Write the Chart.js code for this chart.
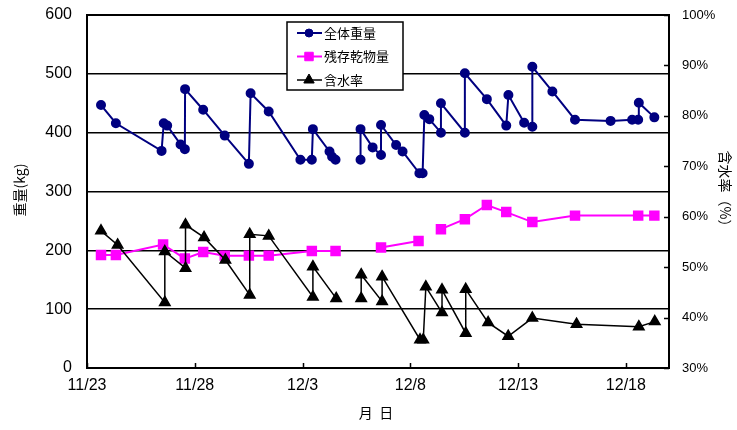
<!DOCTYPE html>
<html>
<head>
<meta charset="utf-8">
<script src="https://cdn.jsdelivr.net/npm/chart.js@4/dist/chart.umd.min.js"></script>
<style>
  html, body { margin: 0; padding: 0; background: #fff; }
  canvas { display: block; }
</style>
</head>
<body>
<canvas id="c" width="737" height="430"></canvas>
<script>
// Day offsets from 11/23 for the x axis ticks and their labels
const tickDays = [0, 5, 10, 15, 20, 25];
const tickLabels = ['11/23', '11/28', '12/3', '12/8', '12/13', '12/18'];

// 全体重量 (kg) — null marks a break in the line
const totalDays = [0.65, 1.34, 3.46, 3.56, 3.72, 4.34, 4.54, 4.55, 5.39, 6.39, 7.51, 7.59, 8.43, 9.90, 10.43, 10.48, 11.25, 11.37, 11.53, 12.1,
  12.69, 12.69, 13.25, 13.64, 13.64, 14.34, 14.64, 15.42, 15.57, 15.65, 15.88, 16.42, 16.42, 17.53, 17.53, 18.55, 19.45, 19.55, 20.28, 20.66, 20.66,
  21.59, 22.64, 24.29, 25.29, 25.57, 25.60, 26.32];
const totalKg = [447, 416, 369, 416, 412, 380, 372, 474, 439, 395, 347, 467, 436, 354, 354, 406, 368, 359, 354, null,
  354, 406, 375, 362, 413, 379, 368, 331, 331, 430, 423, 400, 450, 400, 501, 457, 412, 464, 417, 410, 512,
  470, 422, 420, 422, 422, 451, 426];

// 残存乾物量 (kg)
const dryDays = [0.65, 1.34, 3.53, 4.54, 5.39, 6.39, 7.51, 8.43, 10.43, 11.53, 12.6, 13.64, 15.38, 15.9, 16.42, 17.53, 18.55, 19.45, 20.66, 22.64, 25.57, 26.32];
const dryKg = [192, 192, 210, 186, 197, 191, 191, 191, 199, 199, null, 205, 216, null, 236, 253, 277, 265, 248, 259, 259, 259];

// 含水率 (%)
const moistDays = [0.65, 1.42, 3.61, 3.61, 4.57, 4.57, 5.43, 6.42, 7.55, 7.55, 8.43, 10.48, 10.48, 11.56, 12.1,
  12.72, 12.72, 13.69, 13.69, 15.45, 15.60, 15.72, 16.47, 16.47, 17.57, 17.57, 18.61, 19.54, 20.66, 22.71, 25.60, 26.34];
const moistPct = [57.2, 54.4, 43.0, 53.1, 49.8, 58.4, 55.9, 51.4, 44.5, 56.5, 56.2, 44.1, 50.1, 43.8, null,
  43.8, 48.5, 43.2, 48.1, 35.6, 35.6, 46.1, 41.0, 45.5, 36.9, 45.6, 39.0, 36.3, 39.9, 38.7, 38.2, 39.2];

const seriesNames = ['全体重量', '残存乾物量', '含水率'];

const pts = (xs, ys) => xs.map((x, i) => ({ x: x, y: ys[i] }));

const NUM_FONT = "'Liberation Sans', Arial, sans-serif";
const CJK_FONT = "'Noto Sans CJK JP', 'Noto Sans CJK SC', sans-serif";

// Fixed-width vertical axes without the extra label overhang at the ends
const fixVertical = w => s => { s.width = w; s.paddingTop = 0; s.paddingBottom = 0; };

// Border, inward tick marks, legend box and axis titles
const decor = {
  id: 'decor',
  afterDraw(chart) {
    const ctx = chart.ctx;
    const a = chart.chartArea;
    const xs = chart.scales.x, yr = chart.scales.y1;
    ctx.save();
    ctx.strokeStyle = '#000';
    ctx.lineWidth = 2;
    ctx.strokeRect(a.left, a.top, a.right - a.left, a.bottom - a.top);

    ctx.lineWidth = 1.5;
    ctx.beginPath();
    xs.ticks.forEach(t => {
      const px = Math.round(xs.getPixelForValue(t.value)) + 0.5;
      ctx.moveTo(px, a.bottom);
      ctx.lineTo(px, a.bottom - 5);
    });
    yr.ticks.forEach(t => {
      const py = Math.round(yr.getPixelForValue(t.value)) + 0.5;
      ctx.moveTo(a.right, py);
      ctx.lineTo(a.right - 5, py);
    });
    ctx.stroke();

    // legend
    const lx = 287, ly = 22, lw = 116, lh = 68;
    ctx.fillStyle = '#fff';
    ctx.fillRect(lx, ly, lw, lh);
    ctx.lineWidth = 1.5;
    ctx.strokeStyle = '#000';
    ctx.strokeRect(lx, ly, lw, lh);
    const rows = [33, 56.5, 80];
    chart.data.datasets.forEach((ds, i) => {
      const y = rows[i];
      ctx.strokeStyle = ds.borderColor;
      ctx.lineWidth = ds.borderWidth;
      ctx.beginPath();
      ctx.moveTo(297, y);
      ctx.lineTo(322, y);
      ctx.stroke();
      ctx.fillStyle = ds.pointBackgroundColor;
      ctx.strokeStyle = ds.pointBorderColor;
      ctx.lineWidth = 1;
      Chart.helpers.drawPoint(ctx, { pointStyle: ds.pointStyle, radius: ds.pointRadius, rotation: 0, borderWidth: 1 }, 309, y);
      ctx.fillStyle = '#000';
      ctx.font = '13px ' + CJK_FONT;
      ctx.textAlign = 'left';
      ctx.textBaseline = 'middle';
      ctx.fillText(ds.label, 324, y);
    });

    // axis titles
    ctx.fillStyle = '#000';
    ctx.font = '14px ' + CJK_FONT;
    ctx.textAlign = 'center';
    ctx.textBaseline = 'middle';
    ctx.save();
    ctx.translate(20, 190);
    ctx.rotate(-Math.PI / 2);
    ctx.fillText('重量(kg)', 0, 0);
    ctx.restore();
    ctx.save();
    ctx.translate(725, 192);
    ctx.rotate(Math.PI / 2);
    ctx.fillText('含水率（%）', 0, 0);
    ctx.restore();
    ctx.fillText('月  日', 376, 413);
    ctx.restore();
  }
};

new Chart(document.getElementById('c'), {
  type: 'line',
  data: {
    datasets: [
      {
        label: seriesNames[0],
        data: pts(totalDays, totalKg),
        yAxisID: 'y',
        borderColor: '#000080',
        backgroundColor: '#000080',
        pointBackgroundColor: '#000080',
        pointBorderColor: '#000080',
        borderWidth: 2,
        pointStyle: 'circle',
        pointRadius: 4,
        order: 2
      },
      {
        label: seriesNames[1],
        data: pts(dryDays, dryKg),
        yAxisID: 'y',
        borderColor: '#ff00ff',
        backgroundColor: '#ff00ff',
        pointBackgroundColor: '#ff00ff',
        pointBorderColor: '#ff00ff',
        borderWidth: 2,
        pointStyle: 'rect',
        pointRadius: 6,
        order: 1
      },
      {
        label: seriesNames[2],
        data: pts(moistDays, moistPct),
        yAxisID: 'y1',
        borderColor: '#000000',
        backgroundColor: '#000000',
        pointBackgroundColor: '#000000',
        pointBorderColor: '#000000',
        borderWidth: 1.5,
        pointStyle: 'triangle',
        pointRadius: 6,
        order: 0
      }
    ]
  },
  options: {
    responsive: false,
    animation: false,
    spanGaps: false,
    layout: { padding: { top: 15, left: 0, right: 0, bottom: 0 } },
    elements: { line: { tension: 0 } },
    plugins: { legend: { display: false }, tooltip: { enabled: false } },
    scales: {
      x: {
        type: 'linear',
        min: 0,
        max: 27,
        grid: { display: false, drawTicks: false },
        border: { display: true, color: '#000', width: 2 },
        afterBuildTicks: s => { s.ticks = tickDays.map(v => ({ value: v })); },
        afterFit: s => { s.height = 62; },
        ticks: {
          padding: 8,
          color: '#000',
          maxRotation: 0,
          autoSkip: false,
          font: { family: NUM_FONT, size: 16 },
          callback: v => { const i = tickDays.indexOf(v); return i >= 0 ? tickLabels[i] : ''; }
        }
      },
      y: {
        position: 'left',
        min: 0,
        max: 600,
        grid: { color: '#000', lineWidth: 1.5, drawTicks: false },
        border: { display: true, color: '#000', width: 2 },
        afterFit: fixVertical(87),
        ticks: {
          stepSize: 100,
          padding: 15,
          color: '#000',
          font: { family: NUM_FONT, size: 16 }
        }
      },
      y1: {
        position: 'right',
        min: 30,
        max: 100,
        grid: { display: false, drawTicks: false },
        border: { display: true, color: '#000', width: 2 },
        afterFit: fixVertical(68),
        ticks: {
          stepSize: 10,
          padding: 13,
          color: '#000',
          font: { family: NUM_FONT, size: 13 },
          callback: v => v + '%'
        }
      }
    }
  },
  plugins: [decor]
});
</script>
</body>
</html>
